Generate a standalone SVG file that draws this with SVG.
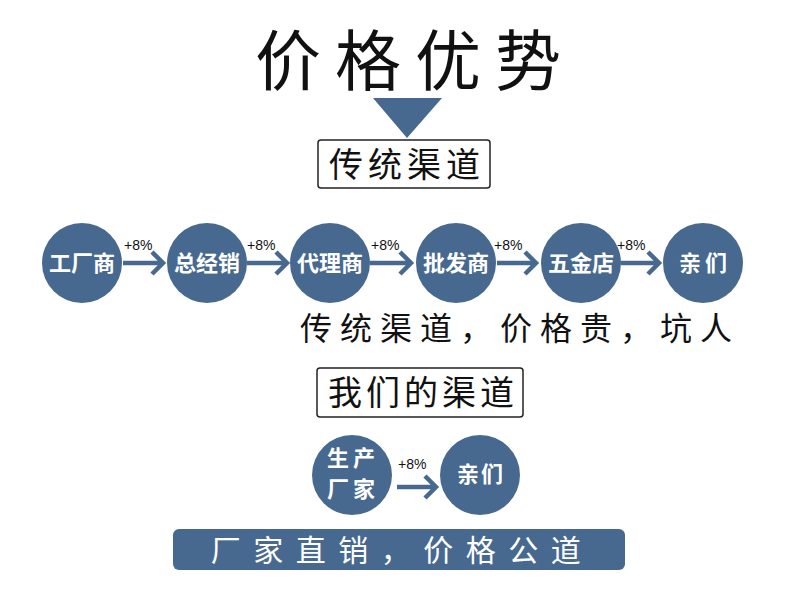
<svg xmlns="http://www.w3.org/2000/svg" width="799" height="611" viewBox="0 0 799 611">
<defs>
<style>
.cjk{font-family:"Noto Sans CJK SC","Noto Sans",sans-serif;}
.node circle{fill:#47698f;}
.nt{font-family:"Noto Sans CJK SC",sans-serif;font-size:22px;font-weight:bold;fill:#ffffff;text-anchor:middle;}
.pct{font-family:"Liberation Sans",Arial,sans-serif;font-size:14px;fill:#111;}
.arr{stroke:#47698f;stroke-width:4.5;fill:none;stroke-linejoin:miter;}
.box{fill:#fff;stroke:#222;stroke-width:1.5;}
</style>
</defs>
<rect width="799" height="611" fill="#ffffff"/>
<g id="title">
<text class="cjk" x="415" y="85" font-size="66" text-anchor="middle" letter-spacing="14" fill="#111">价格优势</text>
<polygon points="373,98 442,98 407,138" fill="#47698f"/>
</g>
<g id="box-traditional">
<rect class="box" x="318" y="140" width="172" height="48" rx="3"/>
<text class="cjk" x="407" y="177" font-size="34" text-anchor="middle" letter-spacing="5" fill="#111">传统渠道</text>
</g>
<g id="n1" class="node"><circle cx="82" cy="263" r="40"/><text class="nt" x="82" y="271">工厂商</text></g>
<g id="n2" class="node"><circle cx="207" cy="263" r="40"/><text class="nt" x="207" y="271">总经销</text></g>
<g id="n3" class="node"><circle cx="330" cy="263" r="40"/><text class="nt" x="330" y="271">代理商</text></g>
<g id="n4" class="node"><circle cx="456" cy="263" r="40"/><text class="nt" x="456" y="271">批发商</text></g>
<g id="n5" class="node"><circle cx="581" cy="263" r="40"/><text class="nt" x="581" y="271">五金店</text></g>
<g id="n6" class="node"><circle cx="703" cy="263" r="40"/><text class="nt" x="705" y="271" letter-spacing="4">亲们</text></g>
<g id="connectors">
<path class="arr" d="M123,263 H162 M152,252 L163,263 L152,274"/>
<path class="arr" d="M247,263 H286 M276,252 L287,263 L276,274"/>
<path class="arr" d="M370,263 H410 M400,252 L411,263 L400,274"/>
<path class="arr" d="M497,263 H535 M525,252 L536,263 L525,274"/>
<path class="arr" d="M621,263 H658 M648,252 L659,263 L648,274"/>
<path class="arr" d="M397,487 H435 M425,476 L436,487 L425,498"/>
<text class="pct" x="124" y="250">+8%</text>
<text class="pct" x="247" y="250">+8%</text>
<text class="pct" x="371" y="250">+8%</text>
<text class="pct" x="494" y="250">+8%</text>
<text class="pct" x="617" y="250">+8%</text>
<text class="pct" x="398" y="469">+8%</text>
</g>
<g id="caption1">
<text class="cjk" x="520" y="340" font-size="32" text-anchor="middle" letter-spacing="8" fill="#111">传统渠道，价格贵，坑人</text>
</g>
<g id="box-ours">
<rect class="box" x="317" y="368" width="206" height="49" rx="3"/>
<text class="cjk" x="423" y="405" font-size="34" text-anchor="middle" letter-spacing="4" fill="#111">我们的渠道</text>
</g>
<g id="m1" class="node"><circle cx="352" cy="475" r="40"/>
<text class="nt" x="353" y="466" font-size="21" letter-spacing="4">生产</text>
<text class="nt" x="353" y="497" font-size="21" letter-spacing="4">厂家</text></g>
<g id="m2" class="node"><circle cx="480" cy="475" r="40"/><text class="nt" x="481" y="482" letter-spacing="2">亲们</text></g>
<g id="banner">
<rect x="173" y="529" width="452" height="41" rx="6" fill="#47698f"/>
<text class="cjk" x="402" y="561" font-size="30" text-anchor="middle" letter-spacing="12.5" fill="#ffffff">厂家直销，价格公道</text>
</g>
</svg>
